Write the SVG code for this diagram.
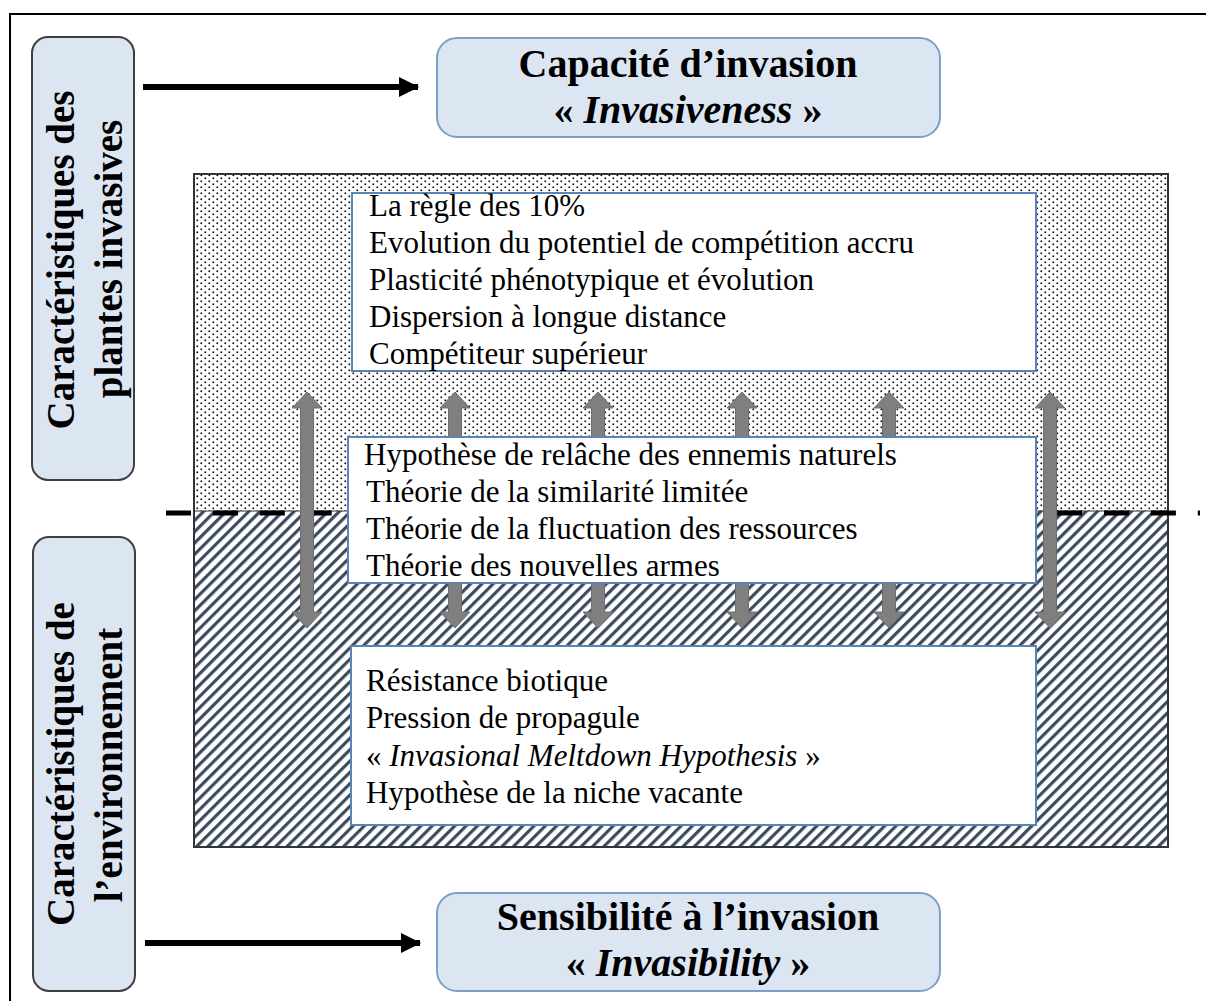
<svg xmlns="http://www.w3.org/2000/svg" xmlns:xlink="http://www.w3.org/1999/xlink" width="1206" height="1001" viewBox="0 0 1206 1001">
<style>
.side{fill:#dce6f2;stroke:#3f3f3f;stroke-width:2}
.title{fill:#dce6f2;stroke:#7f9fc8;stroke-width:2}
.tt{font-family:"Liberation Serif","Times New Roman",serif;font-weight:bold;font-size:40px;fill:#000}
.vt{font-family:"Liberation Serif","Times New Roman",serif;font-weight:bold;font-size:39px;fill:#000}
.box{fill:#fff;stroke:#5b84b6;stroke-width:2}
.bt{font-family:"Liberation Serif","Times New Roman",serif;font-size:31px;fill:#000}
.blk{stroke:#000;stroke-width:6;fill:none}
.gray{fill:#7f7f7f;stroke:#6e6e6e;stroke-width:1}
</style>
<defs>
<pattern id="dots" width="8" height="6" patternUnits="userSpaceOnUse">
<rect width="8" height="6" fill="#fff"/>
<rect x="0.5" y="0.5" width="1.6" height="1.6" fill="#000"/>
<rect x="4.5" y="3.5" width="1.6" height="1.6" fill="#000"/>
</pattern>
<pattern id="hatch" width="8" height="8" patternUnits="userSpaceOnUse" patternTransform="rotate(45)">
<rect width="8" height="8" fill="#fff"/>
<line x1="1.6" y1="-1" x2="1.6" y2="9" stroke="#3c4c5f" stroke-width="3.2"/>
</pattern>
<marker id="ah" markerWidth="4" markerHeight="4" refX="3.2" refY="2" orient="auto" markerUnits="strokeWidth">
<path d="M0,0.3 L3.4,2 L0,3.7 Z" fill="#000"/>
</marker>
<path id="dbl" d="M0,0 L15,16 L6.5,16 L6.5,220 L15,220 L0,236 L-15,220 L-6.5,220 L-6.5,16 L-15,16 Z"/>
</defs>
<rect x="0" y="0" width="1206" height="1001" fill="#fff"/>
<rect x="10" y="14" width="1210" height="1010" fill="none" stroke="#000" stroke-width="2"/>

<g id="background">
<rect x="194" y="174" width="974" height="337" fill="url(#dots)"/>
<rect x="194" y="511" width="974" height="336" fill="url(#hatch)"/>
<line x1="194" y1="511" x2="1168" y2="511" stroke="#333" stroke-width="1"/>
<rect x="194" y="174" width="974" height="673" fill="none" stroke="#333" stroke-width="2"/>
<line x1="166" y1="513" x2="1200" y2="513" stroke="#000" stroke-width="5" stroke-dasharray="25 21.9"/>
</g>

<g id="connectors">
<line class="blk" x1="143" y1="87" x2="418" y2="87" marker-end="url(#ah)"/>
<line class="blk" x1="145" y1="943" x2="420" y2="943" marker-end="url(#ah)"/>
<use xlink:href="#dbl" class="gray" x="307" y="392"/>
<use xlink:href="#dbl" class="gray" x="455" y="392"/>
<use xlink:href="#dbl" class="gray" x="598" y="392"/>
<use xlink:href="#dbl" class="gray" x="742" y="392"/>
<use xlink:href="#dbl" class="gray" x="889" y="392"/>
<use xlink:href="#dbl" class="gray" x="1050" y="392"/>
</g>

<g id="side-plantes">
<rect class="side" x="32" y="37" width="102" height="443" rx="16"/>
<text class="vt" text-anchor="middle" transform="translate(74,260) rotate(-90)">Caractéristiques des</text>
<text class="vt" text-anchor="middle" transform="translate(122,259) rotate(-90)">plantes invasives</text>
</g>

<g id="side-environnement">
<rect class="side" x="33" y="537" width="102" height="454" rx="16"/>
<text class="vt" text-anchor="middle" transform="translate(74,764) rotate(-90)">Caractéristiques de</text>
<text class="vt" text-anchor="middle" transform="translate(122,765) rotate(-90)">l’environnement</text>
</g>

<g id="invasiveness">
<rect class="title" x="437" y="38" width="503" height="99" rx="20"/>
<text class="tt" x="688" y="77" text-anchor="middle">Capacité d’invasion</text>
<text class="tt" x="688" y="123" text-anchor="middle">« <tspan font-style="italic">Invasiveness</tspan> »</text>
</g>

<g id="invasibility">
<rect class="title" x="437" y="893" width="503" height="98" rx="20"/>
<text class="tt" x="688" y="930" text-anchor="middle">Sensibilité à l’invasion</text>
<text class="tt" x="688" y="976" text-anchor="middle">« <tspan font-style="italic">Invasibility</tspan> »</text>
</g>

<g id="box-plantes">
<rect class="box" x="352" y="193" width="684" height="178"/>
<text class="bt" x="369" y="216">La règle des 10%</text>
<text class="bt" x="369" y="253">Evolution du potentiel de compétition accru</text>
<text class="bt" x="369" y="290">Plasticité phénotypique et évolution</text>
<text class="bt" x="369" y="327">Dispersion à longue distance</text>
<text class="bt" x="369" y="364">Compétiteur supérieur</text>
</g>

<g id="box-interaction">
<rect class="box" x="348" y="437" width="688" height="146"/>
<text class="bt" x="364" y="465">Hypothèse de relâche des ennemis naturels</text>
<text class="bt" x="366" y="502">Théorie de la similarité limitée</text>
<text class="bt" x="366" y="539">Théorie de la fluctuation des ressources</text>
<text class="bt" x="366" y="576">Théorie des nouvelles armes</text>
</g>

<g id="box-environnement">
<rect class="box" x="351" y="646" width="685" height="179"/>
<text class="bt" x="366" y="691">Résistance biotique</text>
<text class="bt" x="366" y="728">Pression de propagule</text>
<text class="bt" x="366" y="766">« <tspan font-style="italic">Invasional Meltdown Hypothesis</tspan> »</text>
<text class="bt" x="366" y="803">Hypothèse de la niche vacante</text>
</g>
</svg>
